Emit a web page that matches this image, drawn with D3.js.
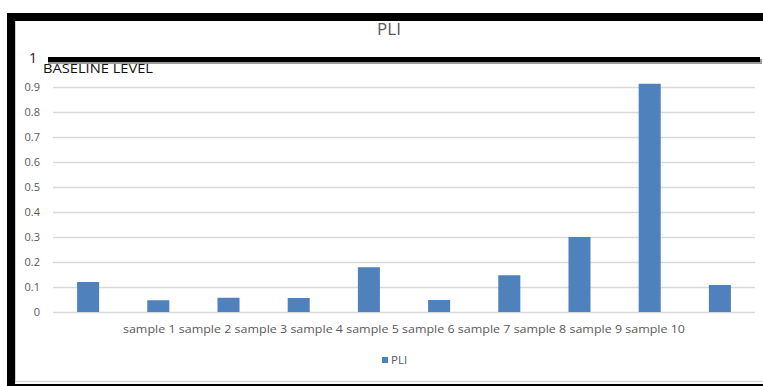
<!DOCTYPE html>
<html>
<head>
<meta charset="utf-8">
<script src="https://cdn.jsdelivr.net/npm/d3@7/dist/d3.min.js"></script>
<style>
  html, body { margin: 0; padding: 0; background: #fff; }
  svg { display: block; font-family: "Open Sans", "Noto Sans", sans-serif; }
</style>
</head>
<body>
<svg id="chart" width="763" height="386"></svg>
<script>
// PLI per sample
const categories = ["sample 1", "sample 2", "sample 3", "sample 4", "sample 5",
                    "sample 6", "sample 7", "sample 8", "sample 9", "sample 10"];
const pliValues = [0.12, 0.047, 0.057, 0.056, 0.179, 0.048, 0.147, 0.30, 0.913, 0.108];
const yTicks = [0, 0.1, 0.2, 0.3, 0.4, 0.5, 0.6, 0.7, 0.8, 0.9];
const baselineValue = 1;
const title = "PLI";
const seriesName = "PLI";
const baselineLabel = "BASELINE LEVEL";

const svg = d3.select("#chart");
const W = 763, H = 386;
const plot = { left: 53, right: 755, top: 62, bottom: 312 };

const x = d3.scaleBand().domain(categories).range([plot.left, plot.right]).paddingInner(0.686).paddingOuter(0.343);
const y = d3.scaleLinear().domain([0, 1]).range([plot.bottom, plot.top]);

const textGrey = "#595959";
const barColor = "#4f81bd";

// outer frame
svg.append("rect").attr("x", 7).attr("y", 13).attr("width", W - 7).attr("height", 8).attr("fill", "#000");
svg.append("rect").attr("x", 7).attr("y", 13).attr("width", 8).attr("height", H - 13).attr("fill", "#000");
svg.append("line").attr("x1", 15.5).attr("x2", 15.5).attr("y1", 21).attr("y2", 383).attr("stroke", "#d0d0d0").attr("stroke-width", 1);
svg.append("line").attr("x1", 15).attr("x2", W).attr("y1", 381.5).attr("y2", 381.5).attr("stroke", "#d9d9d9").attr("stroke-width", 1.5);
svg.append("rect").attr("x", 7).attr("y", 384).attr("width", W - 7).attr("height", 2).attr("fill", "#000");

// title
svg.append("text").attr("x", 389).attr("y", 35).attr("text-anchor", "middle")
  .attr("font-size", 17).attr("fill", textGrey).text(title);

// gridlines
const yAxis = d3.axisLeft(y).tickValues(yTicks).tickSize(-(plot.right - plot.left)).tickFormat(d3.format("~g")).tickPadding(13);
const gy = svg.append("g").attr("transform", `translate(${plot.left},0)`).call(yAxis);
gy.select(".domain").remove();
gy.selectAll(".tick line").attr("stroke", "#d9d9d9").attr("stroke-width", 1.3);
gy.selectAll(".tick text").attr("fill", textGrey).attr("font-size", 11).attr("font-family", "Open Sans, sans-serif");

// bars
svg.append("g").selectAll("rect").data(pliValues).join("rect")
  .attr("x", (d, i) => x(categories[i]))
  .attr("y", d => y(d))
  .attr("width", x.bandwidth())
  .attr("height", d => y(0) - y(d))
  .attr("fill", barColor);

// baseline level line at 1 with a soft shadow
svg.append("line").attr("x1", 48).attr("x2", 762).attr("y1", y(baselineValue) - 0.5).attr("y2", y(baselineValue) - 0.5)
  .attr("stroke", "#9a9a9a").attr("stroke-width", 5);
svg.append("line").attr("x1", 48).attr("x2", 760).attr("y1", y(baselineValue) - 2.5).attr("y2", y(baselineValue) - 2.5)
  .attr("stroke", "#000").attr("stroke-width", 5);
svg.append("text").attr("x", 37).attr("y", y(baselineValue) + 1).attr("text-anchor", "end")
  .attr("font-size", 14).attr("fill", "#222").text(d3.format("~g")(baselineValue));
svg.append("text").attr("x", 43).attr("y", y(baselineValue) + 11)
  .attr("font-size", 13.5).attr("fill", "#111")
  .attr("textLength", 110).attr("lengthAdjust", "spacingAndGlyphs")
  .text(baselineLabel);

// category labels run together on one line below the axis
svg.append("text").attr("x", 404).attr("y", 333).attr("text-anchor", "middle")
  .attr("font-size", 11.5).attr("fill", textGrey)
  .attr("textLength", 562).attr("lengthAdjust", "spacingAndGlyphs")
  .text(categories.join(" "));

// legend
svg.append("rect").attr("x", 382).attr("y", 357).attr("width", 6).attr("height", 6).attr("fill", barColor);
svg.append("text").attr("x", 391).attr("y", 364).attr("font-size", 11.5).attr("fill", textGrey).text(seriesName);
</script>
</body>
</html>
